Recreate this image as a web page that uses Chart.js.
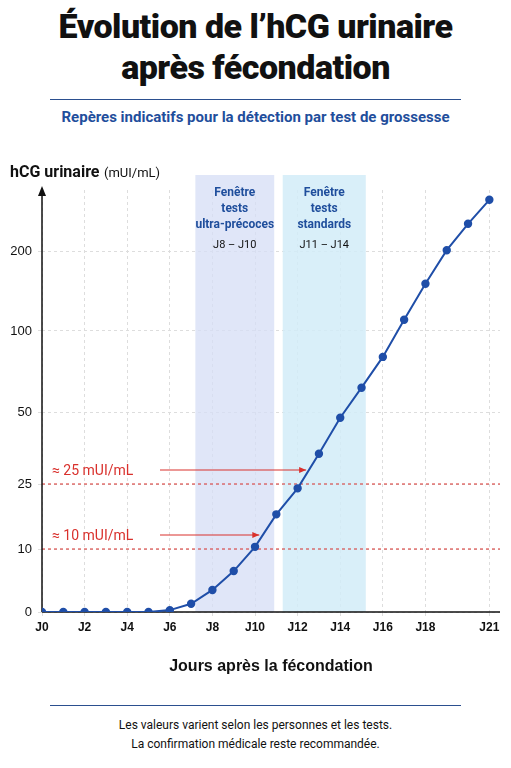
<!DOCTYPE html>
<html>
<head>
<meta charset="utf-8">
<script src="https://cdn.jsdelivr.net/npm/chart.js@4.4.1/dist/chart.umd.min.js"></script>
<style>
  body { margin:0; width:511px; height:768px; background:#fff; font-family:Roboto, "Noto Sans", sans-serif; position:relative; overflow:hidden; }
  .title { position:absolute; top:6px; left:0; width:511px; text-align:center; font-size:34px; font-weight:900; line-height:41px; color:#111; letter-spacing:-0.5px; }
  .rule { position:absolute; left:50px; width:411px; height:1px; background:#2b4f8f; }
  .sub { position:absolute; top:108px; left:0; width:511px; text-align:center; font-size:15px; font-weight:bold; color:#1f4e9c; }
  .foot { position:absolute; top:716px; left:0; width:511px; text-align:center; font-size:12px; line-height:19px; color:#111; }
  #wrap { position:absolute; top:150px; left:0; width:511px; height:530px; }
</style>
</head>
<body>
<div class="title">Évolution de l’hCG urinaire<br>après fécondation</div>
<div class="rule" style="top:99px"></div>
<div class="sub">Repères indicatifs pour la détection par test de grossesse</div>
<div id="wrap"><canvas id="hcgChart"></canvas></div>
<div class="rule" style="top:705px"></div>
<div class="foot">Les valeurs varient selon les personnes et les tests.<br>La confirmation médicale reste recommandée.</div>
<script>
"use strict";

const days = [0,1,2,3,4,5,6,7,8,9,10,11,12,13,14,15,16,17,18,19,20,21];
const hcg = [0,0,0,0,0,0,0.3,1.3,3.5,6.5,10.5,18,24,35.5,48,65,84,114,159,201,234,264];
const tickValues = [0,10,25,50,100,200];
// vertical position of each tick (the axis is not linear)
const tickPos = [0,63,128,200,281,361];
const dayLabels = ['J0','J2','J4','J6','J8','J10','J12','J14','J16','J18','J21'];
const windows = [
    {from:7.2, to:10.9, color:'rgba(214,222,245,0.75)', lines:['Fenêtre','tests','ultra-précoces'], range:'J8 – J10'},
    {from:11.3, to:15.2, color:'rgba(210,236,248,0.85)', lines:['Fenêtre','tests','standards'], range:'J11 – J14'},
];
const thresholds = [
    {value:25, label:'≈ 25 mUI/mL', arrowTo:12.4},
    {value:10, label:'≈ 10 mUI/mL', arrowTo:10.2},
];

function toPos(v) {
    for (let i = 1; i < tickValues.length; i++) {
        if (v <= tickValues[i] || i == tickValues.length - 1) {
            const a = tickValues[i-1], b = tickValues[i];
            return tickPos[i-1] + (v - a) / (b - a) * (tickPos[i] - tickPos[i-1]);
        }
    }
}

const decor = {
    id: 'decor',
    beforeDatasetsDraw(chart) {
        const {ctx, chartArea, scales: {x, y}} = chart;
        ctx.save();
        windows.forEach(w => {
            ctx.fillStyle = w.color;
            ctx.fillRect(x.getPixelForValue(w.from), chartArea.top - 15, x.getPixelForValue(w.to) - x.getPixelForValue(w.from), chartArea.bottom - chartArea.top + 15);
            const cx = (x.getPixelForValue(w.from) + x.getPixelForValue(w.to)) / 2;
            ctx.textAlign = 'center';
            ctx.font = 'bold 12px Roboto';
            ctx.fillStyle = '#1f4e9c';
            w.lines.forEach((l, i) => ctx.fillText(l, cx, chartArea.top + 6 + i * 16));
            ctx.fillStyle = '#111';
            ctx.font = '11px Roboto';
            ctx.fillText(w.range, cx, chartArea.top + 58);
        });
        thresholds.forEach(t => {
            const py = y.getPixelForValue(toPos(t.value));
            ctx.strokeStyle = '#d9302c';
            ctx.lineWidth = 1;
            ctx.setLineDash([3, 3]);
            ctx.beginPath(); ctx.moveTo(chartArea.left, py); ctx.lineTo(chartArea.right, py); ctx.stroke();
            ctx.setLineDash([]);
            const ay = py - 14;
            ctx.fillStyle = '#d9302c';
            ctx.font = '14px Roboto';
            ctx.textAlign = 'left';
            ctx.fillText(t.label, 52, ay + 5);
            const ax = x.getPixelForValue(t.arrowTo);
            ctx.beginPath(); ctx.moveTo(160, ay); ctx.lineTo(ax, ay); ctx.stroke();
            ctx.beginPath(); ctx.moveTo(ax, ay); ctx.lineTo(ax - 7, ay - 3); ctx.lineTo(ax - 7, ay + 3); ctx.closePath(); ctx.fill();
        });
        // axes with arrows
        ctx.strokeStyle = '#111';
        ctx.fillStyle = '#111';
        ctx.lineWidth = 1.5;
        ctx.beginPath(); ctx.moveTo(chartArea.left, chartArea.bottom); ctx.lineTo(chartArea.left, chartArea.top + 2); ctx.stroke();
        ctx.beginPath(); ctx.moveTo(chartArea.left, chartArea.top - 4); ctx.lineTo(chartArea.left - 4, chartArea.top + 6); ctx.lineTo(chartArea.left + 4, chartArea.top + 6); ctx.closePath(); ctx.fill();
        ctx.beginPath(); ctx.moveTo(chartArea.left, chartArea.bottom); ctx.lineTo(chartArea.right, chartArea.bottom); ctx.stroke();
        ctx.textAlign = 'left';
        ctx.font = 'bold 16px Roboto';
        ctx.fillText('hCG urinaire', 10, 27);
        ctx.font = '13px Roboto';
        ctx.fillText('(mUI/mL)', 104, 27);
        ctx.restore();
    }
};

const ctx = document.getElementById('hcgChart').getContext('2d');
const hcgChart = new Chart(ctx, {
    type: 'line',
    data: {
        datasets: [{
            data: days.map((d, i) => ({x: d, y: toPos(hcg[i])})),
            borderColor: '#1f4ea8',
            backgroundColor: '#1f4ea8',
            borderWidth: 2,
            pointRadius: 3.2,
            tension: 0,
        }]
    },
    options: {
        animation: false,
        responsive: true,
        maintainAspectRatio: false,
        layout: { padding: { top: 40, right: 11 } },
        plugins: { legend: { display: false }, tooltip: { enabled: false } },
        scales: {
            x: {
                type: 'linear', min: 0, max: 21.5,
                afterBuildTicks: s => { s.ticks = [0,2,4,6,8,10,12,14,16,18,21].map(v => ({value: v})); },
                afterFit: s => { s.height = 68; },
                ticks: { callback: (v, i) => dayLabels[i], color: '#111', font: { size: 12, weight: 'bold' }, padding: 4, maxRotation: 0, autoSkip: false },
                grid: { color: '#ddd', tickLength: 4, drawTicks: true },
                border: { display: false, dash: [3, 3] },
                title: { display: true, text: 'Jours après la fécondation', color: '#111', font: { size: 16, weight: 'bold' }, padding: { top: 4 } },
            },
            y: {
                min: 0, max: 422,
                afterBuildTicks: s => { s.ticks = tickPos.map(v => ({value: v})); },
                afterFit: s => { s.width = 42; },
                ticks: { callback: (v, i) => tickValues[i], color: '#111', font: { size: 13 }, padding: 6 },
                grid: { color: '#ddd', tickLength: 4 },
                border: { display: false, dash: [3, 3] },
            }
        }
    },
    plugins: [decor]
});
</script>
</body>
</html>
